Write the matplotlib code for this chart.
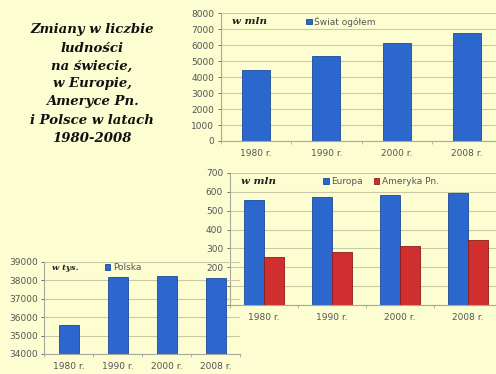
import matplotlib
matplotlib.use("Agg")
import matplotlib.pyplot as plt
import numpy as np

# data
years = ["1980 r.", "1990 r.", "2000 r.", "2008 r."]
swiat = [4450, 5300, 6100, 6750]          # w mln
europa = [555, 573, 585, 595]             # w mln
ameryka = [252, 283, 314, 342]            # w mln
polska = [35600, 38200, 38250, 38120]     # w tys.

title_lines = ["Zmiany w liczbie", "ludności", "na świecie,", "w Europie,",
               "Ameryce Pn.", "i Polsce w latach", "1980-2008"]

BG = "#fdfdd2"
GRID = "#c9c9a6"
BLUE = "#2b67cc"
BLUE_EDGE = "#1c4a99"
RED = "#d02f2f"
RED_EDGE = "#8f1a1a"
TICK = "#555555"

fig = plt.figure(figsize=(4.96, 3.74), dpi=100)
fig.patch.set_facecolor(BG)


def style(ax, ymin, ymax, step):
    ax.set_facecolor("none")
    ax.set_ylim(ymin, ymax)
    ax.set_yticks(np.arange(ymin, ymax + 1, step))
    ax.set_xlim(-0.5, len(years) - 0.5)
    ax.set_xticks(range(len(years)))
    ax.set_xticklabels(years)
    ax.yaxis.grid(True, color=GRID, linewidth=0.8)
    ax.set_axisbelow(True)
    for s in ["top", "right"]:
        ax.spines[s].set_visible(False)
    for s in ["left", "bottom"]:
        ax.spines[s].set_color("#a8a8a0")
        ax.spines[s].set_linewidth(0.8)
    ax.tick_params(axis="both", labelsize=6.5, colors=TICK, length=2,
                   width=0.6, pad=3)
    ax.tick_params(axis="x", length=0, pad=6)
    ax.set_xticks(np.arange(-0.5, len(years), 1), minor=True)
    ax.tick_params(axis="x", which="minor", length=2.5, color="#a8a8a0")


def unit(ax, txt, size=7.5):
    ax.text(0.04, 0.935, txt, transform=ax.transAxes, ha="left", va="center",
            family="DejaVu Serif", style="italic", weight="bold", size=size,
            color="#222222")


def legend(ax, anchor, ncol=1):
    ax.legend(loc="center left", bbox_to_anchor=(anchor, 0.935), frameon=False,
              fontsize=6.5, handlelength=0.6, handleheight=0.6,
              handletextpad=0.3, columnspacing=1.2, ncol=ncol,
              borderaxespad=0, labelcolor=TICK)


x = np.arange(len(years))

# World
ax1 = fig.add_axes([0.4456, 0.623, 0.5665, 0.342])
style(ax1, 0, 8000, 1000)
ax1.bar(x, swiat, width=0.4, color=BLUE, edgecolor=BLUE_EDGE, linewidth=0.6,
        label="Świat ogółem")
unit(ax1, "w mln")
legend(ax1, 0.29)

# Europe / North America
ax2 = fig.add_axes([0.4637, 0.1845, 0.548, 0.353])
style(ax2, 0, 700, 100)
w = 0.29
ax2.bar(x - w / 2, europa, width=w, color=BLUE, edgecolor=BLUE_EDGE,
        linewidth=0.6, label="Europa")
ax2.bar(x + w / 2, ameryka, width=w, color=RED, edgecolor=RED_EDGE,
        linewidth=0.6, label="Ameryka Pn.")
unit(ax2, "w mln")
legend(ax2, 0.33, ncol=2)

# Poland (drawn on top of the Europe chart's labels)
ax3 = fig.add_axes([0.0897, 0.0535, 0.395, 0.246])
ax3.set_zorder(3)
style(ax3, 34000, 39000, 1000)
ax3.bar(x, polska, width=0.41, color=BLUE, edgecolor=BLUE_EDGE, linewidth=0.6,
        label="Polska")
unit(ax3, "w tys.", size=6)
legend(ax3, 0.29)

# title block
fig.text(92 / 496, 1 - 84 / 374, "\n".join(title_lines), ha="center",
         va="center", family="DejaVu Serif", style="italic", weight="bold",
         size=9.5, linespacing=1.5, color="#111111")

fig.savefig("out.png", dpi=100, facecolor=BG)
